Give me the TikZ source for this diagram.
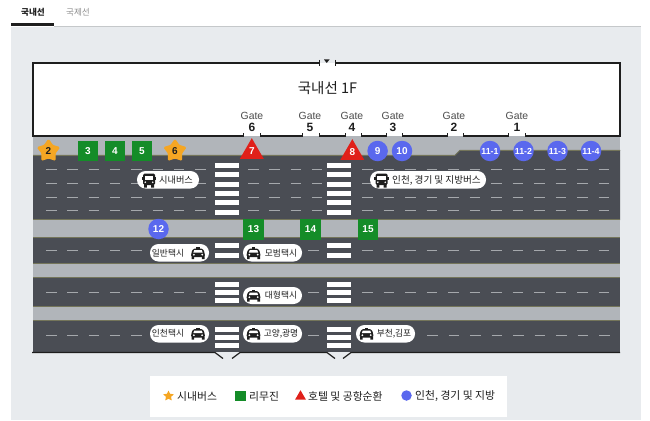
\documentclass[tikz,border=0pt]{standalone}
\usepackage{fontspec}
\setmainfont{Liberation Sans}
\newfontfamily\kr{Noto Sans CJK KR}
\usetikzlibrary{shapes.geometric}
\definecolor{panelbg}{HTML}{E8EBEE}
\definecolor{walk}{HTML}{B1B5BA}
\definecolor{road}{HTML}{4A4D54}
\definecolor{edgeline}{HTML}{74755A}
\definecolor{dashc}{HTML}{A5A8AC}
\definecolor{stargold}{HTML}{F5A623}
\definecolor{limo}{HTML}{148C28}
\definecolor{hotel}{HTML}{E0201A}
\definecolor{blueb}{HTML}{5A68EE}
\definecolor{ink}{HTML}{1E1E1E}
\tikzset{
  x=1pt,y=-1pt,
  wall/.style={draw=ink,line width=1.5pt,line cap=butt},
  roadedge/.style={draw=edgeline,line width=0.9pt},
  dashmark/.style={draw=dashc,line width=0.9pt},
  zebra/.style={fill=white,draw=none},
  pill/.style={fill=white,rounded corners=8.5pt,draw=none},
  pilltext/.style={font=\kr\fontsize{8.7}{10}\selectfont,text=ink,inner sep=0pt},
  gatetext/.style={font=\fontsize{10.4}{12}\selectfont,text=ink!80,inner sep=0pt},
  gatenum/.style={font=\bfseries\fontsize{12}{13}\selectfont,text=ink,inner sep=0pt},
  markfont/.style={font=\bfseries\fontsize{10}{11}\selectfont},
  starmark/.style={star,star points=5,star point ratio=1.65,fill=stargold,draw=stargold,line width=1pt,rounded corners=1pt,minimum size=23pt,inner sep=0pt,text=ink,markfont},
  limomark/.style={rectangle,fill=limo,minimum size=20.5pt,inner sep=0pt,text=white,markfont},
  hotelmark/.style={regular polygon,regular polygon sides=3,fill=hotel,minimum size=27.7pt,inner sep=0pt,text=white,markfont},
  bluemark/.style={circle,fill=blueb,minimum size=20.5pt,inner sep=0pt,text=white,markfont},
  bluemarksm/.style={bluemark,font=\bfseries\fontsize{8.8}{10}\selectfont},
  legendtext/.style={font=\kr\fontsize{10.8}{13}\selectfont,text=ink,inner sep=0pt,anchor=west},
  busicon/.pic={
    \fill[ink,rounded corners=1.5pt] (-6,-6.5) rectangle (6,5);
    \fill[ink] (-5,4) rectangle (-2.2,7.5) (2.2,4) rectangle (5,7.5);
    \fill[ink] (-7.2,-3.5) rectangle (7.2,-0.5);
    \fill[white] (-4.2,-4.2) rectangle (4.2,0);
    \fill[white] (-3.7,2.2) circle (0.9) (3.7,2.2) circle (0.9);
  },
  taxiicon/.pic={
    \fill[ink] (-1.8,-6) rectangle (1.8,-4);
    \fill[ink,rounded corners=1.5pt] (-4.8,-4.5) -- (4.8,-4.5) -- (6.8,0) -- (6.8,4) -- (-6.8,4) -- (-6.8,0) -- cycle;
    \fill[ink] (-6.5,3) rectangle (-3.8,6) (3.8,3) rectangle (6.5,6);
    \fill[white] (-3.7,-2.9) -- (3.7,-2.9) -- (4.7,-0.4) -- (-4.7,-0.4) -- cycle;
    \fill[white] (-4.2,1.7) circle (1) (4.2,1.7) circle (1);
  },
}
\newcommand{\dashrun}[4]{% y, start, count, period
  \foreach \i in {1,...,#3}{
    \draw[dashmark] ({#2+(\i-1)*#4},#1) -- ++(10.5,0);
  }
}
\begin{document}
\begin{tikzpicture}
\useasboundingbox (0,0) rectangle (650,420);
\fill[white] (0,0) rectangle (650,420);
% panel and tabs
\fill[panelbg] (11,27) rectangle (641,420);
\draw[draw=panelbg!85!black,line width=0.5pt] (54,26.5) -- (641,26.5);
\fill[ink] (11,23.5) rectangle (54,26.5);
\node[inner sep=0pt,font=\kr\bfseries\fontsize{8.6}{10}\selectfont,text=ink] (tabdom) at (33,12.5) {국내선};
\node[inner sep=0pt,font=\kr\fontsize{8.6}{10}\selectfont,text=ink!50] (tabint) at (78,12.5) {국제선};
% sidewalk band and building
\fill[white] (33,63) rectangle (620,136);
\fill[walk] (33,136) rectangle (620,221);
% roads
\fill[road] (33,155) -- (455,155) -- (460,150) -- (620,150) -- (620,220) -- (33,220) -- cycle;
\draw[roadedge] (33,155.3) -- (455,155.3) -- (460,150.3) -- (620,150.3);
\draw[roadedge] (33,219.5) -- (620,219.5);
\fill[walk] (33,220) rectangle (620,237);
\fill[road] (33,237) rectangle (620,264);
\draw[roadedge] (33,237.3) -- (620,237.3);
\draw[roadedge] (33,263.5) -- (620,263.5);
\fill[walk] (33,264) rectangle (620,277);
\fill[road] (33,277) rectangle (620,307);
\draw[roadedge] (33,277.3) -- (620,277.3);
\draw[roadedge] (33,306.7) -- (620,306.7);
\fill[walk] (33,307) rectangle (620,320);
\fill[road] (33,320) rectangle (620,352);
\draw[roadedge] (33,320.3) -- (620,320.3);
% dashes, first road
\foreach \ry in {169.5,183,197,210.5}{
  \dashrun{\ry}{46}{8}{21.3}
  \dashrun{\ry}{248}{4}{21.3}
  \dashrun{\ry}{362}{12}{21.5}
}
% dashes, other roads
\dashrun{250}{46}{5}{21.3}
\dashrun{250}{308}{1}{21.3}
\dashrun{250}{362}{12}{21.5}
\dashrun{292}{46}{8}{21.3}
\dashrun{292}{308}{1}{21.3}
\dashrun{292}{362}{12}{21.5}
\dashrun{335}{46}{5}{21.3}
\dashrun{335}{308}{1}{21.3}
\dashrun{335}{427}{9}{21.5}
% crosswalks
\foreach \cx in {215,327}{
  \foreach \zy in {162.5,172,181.5,190.5,200,209.5,243,252.5,282,290,298,327,335,343}{
    \fill[zebra] (\cx,\zy) rectangle ++(24,5);
  }
}
% building outline
\draw[wall] (319,63) -- (33,63) -- (33,136) -- (243,136);
\draw[wall] (335.5,63) -- (620,63) -- (620,136) -- (525,136);
\draw[wall,line width=1pt] (319,60) -- (319,66);
\draw[wall,line width=1pt] (335.5,60) -- (335.5,66);
\fill[ink] (324,59.5) -- (329.5,59.5) -- (326.7,63) -- cycle;
\draw[wall] (260,136) -- (302,136);
\draw[wall] (319,136) -- (345,136);
\draw[wall] (361,136) -- (386,136);
\draw[wall] (402,136) -- (447,136);
\draw[wall] (463,136) -- (508,136);
\foreach \tx in {243.5,260,302,319,345,361,386,402,447,463,508,525}{
  \draw[wall,line width=1pt] (\tx,133) -- (\tx,136.5);
}
% bottom line
\draw[wall,line width=1.2pt] (32,352.5) -- (215,352.5) -- (223,358.5);
\draw[wall,line width=1.2pt] (232,358.5) -- (240,352.5) -- (327,352.5) -- (335,358.5);
\draw[wall,line width=1.2pt] (343,358.5) -- (351,352.5) -- (620,352.5);
% title and gates
\node[inner sep=0pt,font=\kr\fontsize{14.5}{17}\selectfont,text=ink] (title) at (327.5,88.5) {국내선 1F};
\foreach \gx/\gn in {252/6,310/5,352/4,393/3,454/2,517/1}{
  \node[gatetext] (gate\gn) at (\gx,116) {Gate};
  \node[gatenum] (num\gn) at (\gx,127) {\gn};
}
% pills
\fill[pill] (137,171) rectangle (199,188.5);
\pic at (149,180) {busicon};
\node[pilltext,font=\kr\fontsize{9.2}{11}\selectfont] (p1) at (176,180) {시내버스};
\fill[pill] (370,171) rectangle (486,188.5);
\pic at (381.5,180) {busicon};
\node[pilltext,font=\kr\fontsize{9.6}{11}\selectfont] (p2) at (436.5,180) {인천, 경기 및 지방버스};
\fill[pill] (150,244) rectangle (209,261.5);
\pic at (198,253) {taxiicon};
\node[pilltext] (p3) at (168,253) {일반택시};
\fill[pill] (243,244) rectangle (302,261.5);
\pic at (253.5,253) {taxiicon};
\node[pilltext] (p4) at (281,253) {모범택시};
\fill[pill] (243,287) rectangle (302,304);
\pic at (253.5,295.5) {taxiicon};
\node[pilltext] (p5) at (281,295.5) {대형택시};
\fill[pill] (150,325) rectangle (209,342.5);
\pic at (198,333.5) {taxiicon};
\node[pilltext] (p6) at (168,333.5) {인천택시};
\fill[pill] (243,325) rectangle (302,342.5);
\pic at (253.5,333.5) {taxiicon};
\node[pilltext] (p7) at (281,333.5) {고양,광명};
\fill[pill] (356,325) rectangle (415,342.5);
\pic at (366.5,333.5) {taxiicon};
\node[pilltext] (p8) at (394,333.5) {부천,김포};
% stop markers
\node[starmark] (s2) at (48.5,151) {2};
\node[starmark] (s6) at (175,151) {6};
\node[limomark] (m3) at (88,151) {3};
\node[limomark] (m4) at (115,151) {4};
\node[limomark] (m5) at (142,151) {5};
\node[limomark] (m13) at (253.5,229.5) {13};
\node[limomark] (m14) at (310.5,229.5) {14};
\node[limomark] (m15) at (368,229.5) {15};
\node[hotelmark] (h7) at (251.8,152) {\raisebox{1pt}{7}};
\node[hotelmark] (h8) at (352.3,153) {\raisebox{1pt}{8}};
\node[bluemark] (b9) at (377.6,151) {9};
\node[bluemark] (b10) at (402,151) {10};
\node[bluemarksm] (b111) at (490,151) {11-1};
\node[bluemarksm] (b112) at (523.5,151) {11-2};
\node[bluemarksm] (b113) at (557.5,151) {11-3};
\node[bluemarksm] (b114) at (591,151) {11-4};
\node[bluemark] (b12) at (158.5,229) {12};
% legend
\fill[white] (150,376) rectangle (507,417);
\node[star,star points=5,star point ratio=2,fill=stargold,minimum size=11pt,inner sep=0pt] (ls) at (168.5,396) {};
\node[legendtext] (lt1) at (177,396) {시내버스};
\node[fill=limo,minimum size=10.5pt,inner sep=0pt] (ll) at (240.5,396) {};
\node[legendtext] (lt2) at (249,396) {리무진};
\node[regular polygon,regular polygon sides=3,fill=hotel,minimum size=12.5pt,inner sep=0pt] (lh) at (300.5,396.5) {};
\node[legendtext] (lt3) at (308,396) {호텔 및 공항순환};
\node[circle,fill=blueb,minimum size=10.5pt,inner sep=0pt] (lb) at (406.5,395.5) {};
\node[legendtext] (lt4) at (415,396) {인천, 경기 및 지방};
\end{tikzpicture}
\end{document}
